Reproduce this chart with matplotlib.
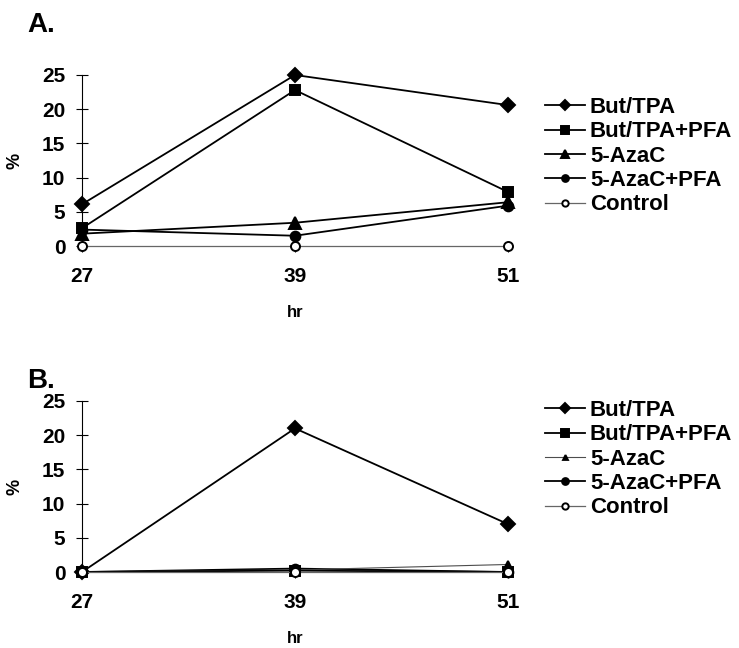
import matplotlib
matplotlib.use("Agg")
import matplotlib.pyplot as plt

plt.rcParams['font.family'] = ['Liberation Sans', 'DejaVu Sans']
plt.rcParams['font.weight'] = 'bold'

hours = [27, 39, 51]
labels = ["But/TPA", "But/TPA+PFA", "5-AzaC", "5-AzaC+PFA", "Control"]

# panel A values (%)
a_but_tpa = [6.1, 25.0, 20.6]
a_but_tpa_pfa = [2.6, 22.8, 7.9]
a_azac = [1.8, 3.4, 6.4]
a_azac_pfa = [2.4, 1.5, 5.9]
a_control = [0.0, 0.0, 0.0]

# panel B values (%)
b_but_tpa = [0.0, 21.0, 7.0]
b_but_tpa_pfa = [0.0, 0.2, 0.0]
b_azac = [0.0, 0.3, 1.1]
b_azac_pfa = [0.0, 0.5, 0.0]
b_control = [0.0, 0.0, 0.0]

markers = ["D", "s", "^", "o", "o"]
msizes = [7.5, 7.5, 8, 7, 6.5]
faces = ["black", "black", "black", "black", "white"]

W, H = 739, 648
fig = plt.figure(figsize=(W / 100, H / 100), dpi=100)
axA = fig.add_axes([82 / W, 1 - 246 / H, 426 / W, 171 / H])
axB = fig.add_axes([82 / W, 1 - 572 / H, 426 / W, 171 / H])


def draw(ax, series, leg_top, small_tri=False):
    for i, (vals, lab) in enumerate(zip(series, labels)):
        ms = msizes[i]
        lw = 1.3
        col = "black"
        if i == 2 and small_tri:
            ms = 5
            lw = 0.8
            col = "0.3"
        if i == 4:
            lw = 0.9
            col = "0.4"
        ax.plot(hours, vals, marker=markers[i], ms=ms, mfc=faces[i], mec="black",
                mew=1.4, color=col, lw=lw, label=lab, clip_on=False,
                zorder=4 if i == 4 else 3 + (5 - i) * 0.1)
    ax.set_xlim(27, 51)
    ax.set_ylim(0, 25)
    ax.set_xticks(hours)
    ax.set_yticks([0, 5, 10, 15, 20, 25])
    for s in ["top", "right"]:
        ax.spines[s].set_visible(False)
    ax.spines["bottom"].set_color("0.5")
    ax.spines["bottom"].set_linewidth(0.6)
    ax.spines["left"].set_linewidth(0.8)
    ax.tick_params(axis="y", direction="inout", length=8, width=0.8, labelsize=15, pad=8)
    ax.tick_params(axis="x", direction="out", length=4, width=0.8, labelsize=15, pad=11)
    ax.set_ylabel("%", fontsize=13, fontweight="bold")
    ax.yaxis.set_label_coords(-0.138, 0.5)
    ax.set_xlabel("hr", fontsize=12, fontweight="bold", labelpad=14)
    ax.legend(loc="upper left", bbox_to_anchor=(545 / W, 1 - leg_top / H),
              bbox_transform=fig.transFigure, frameon=False,
              fontsize=16, handlelength=1.8, handletextpad=0.22, labelspacing=0.15,
              markerscale=0.7, borderaxespad=0, borderpad=0)


draw(axA, [a_but_tpa, a_but_tpa_pfa, a_azac, a_azac_pfa, a_control], 97)
draw(axB, [b_but_tpa, b_but_tpa_pfa, b_azac, b_azac_pfa, b_control], 400, small_tri=True)

fig.text(27 / W, 1 - 32 / H, "A.", fontsize=20, fontweight="bold", va="baseline")
fig.text(27 / W, 1 - 388 / H, "B.", fontsize=20, fontweight="bold", va="baseline")

fig.savefig("out.png", dpi=100)
